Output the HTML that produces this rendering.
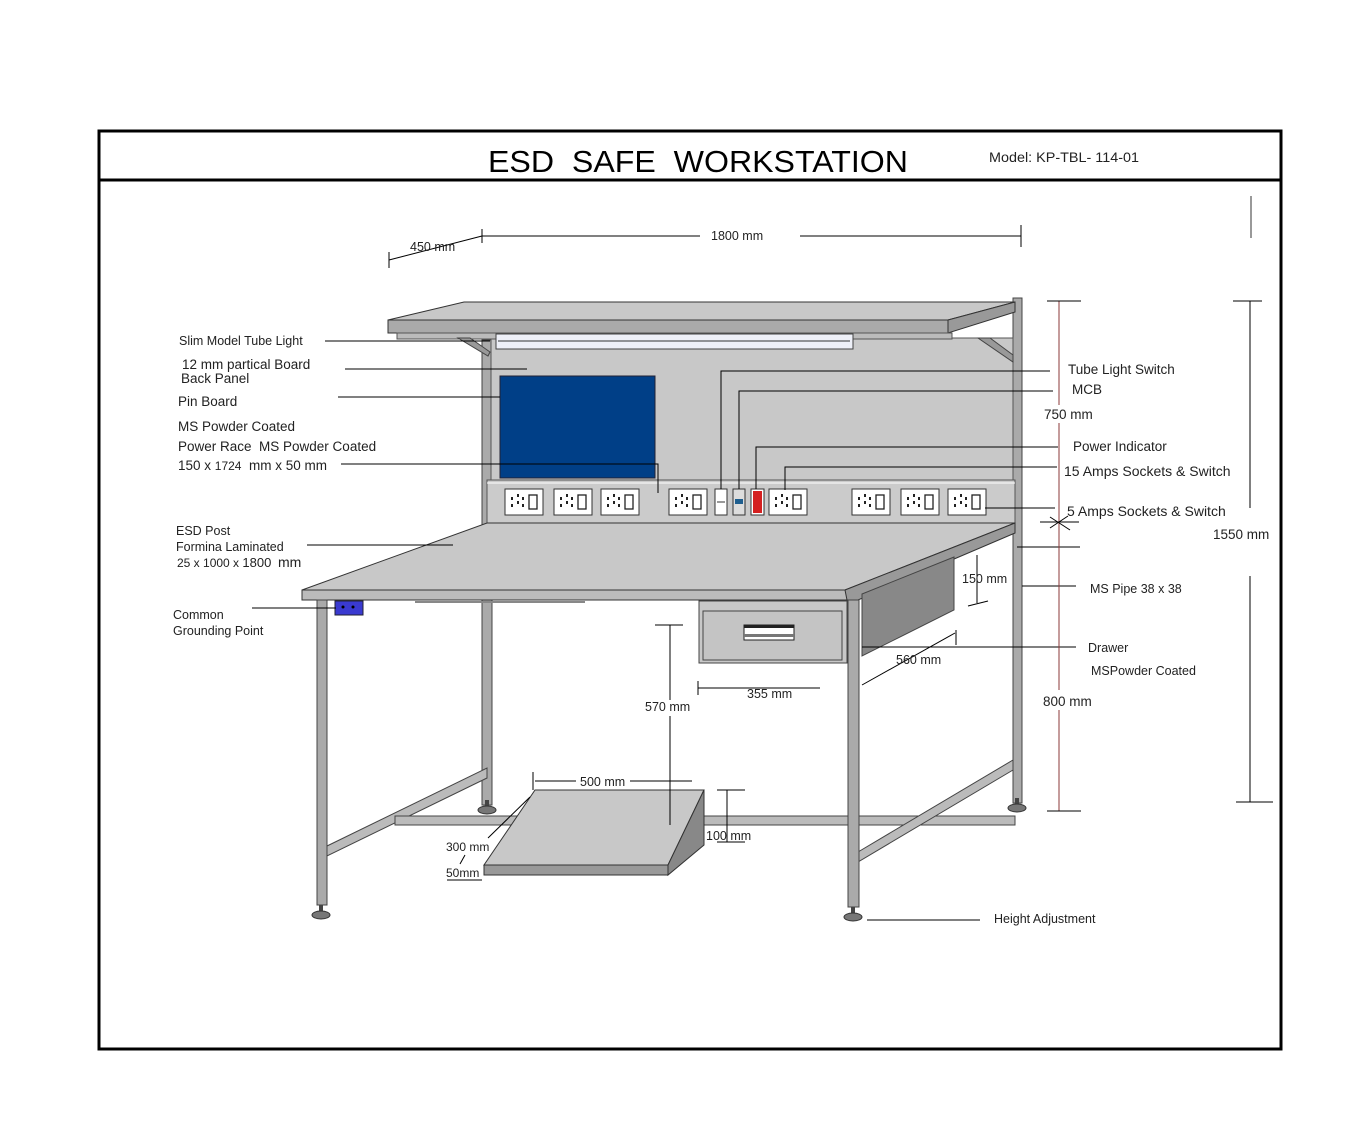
<!DOCTYPE html>
<html><head><meta charset="utf-8"><style>
html,body{margin:0;padding:0;background:#fff;}
svg{display:block;}
text{font-family:"Liberation Sans",sans-serif;fill:#222;}
</style></head><body>
<svg width="1360" height="1145" viewBox="0 0 1360 1145" xmlns="http://www.w3.org/2000/svg">
<defs>
<g id="sk">
<rect x="0" y="0" width="38" height="26" fill="#fff" stroke="#333" stroke-width="1"/>
<rect x="6" y="8" width="2" height="3" fill="#222"/><rect x="6" y="15" width="2" height="3" fill="#222"/>
<rect x="12" y="5" width="2" height="3" fill="#222"/><rect x="12" y="12" width="2" height="3" fill="#222"/>
<rect x="17" y="8" width="2" height="3" fill="#222"/><rect x="17" y="15" width="2" height="3" fill="#222"/>
<rect x="24" y="6" width="8" height="14" fill="#fff" stroke="#222" stroke-width="1.3"/>
</g>
<g id="foot"><rect x="-2" y="-8" width="4" height="8" fill="#444"/><ellipse cx="0" cy="2" rx="9" ry="4" fill="#777" stroke="#333"/></g>
</defs>
<rect width="1360" height="1145" fill="#fff"/>
<rect x="99" y="131" width="1182" height="918" fill="none" stroke="#000" stroke-width="3"/>
<line x1="99" y1="180" x2="1281" y2="180" stroke="#000" stroke-width="3"/>
<text x="488" y="172" font-size="31" textLength="420" lengthAdjust="spacingAndGlyphs" style="fill:#000;white-space:pre">ESD  SAFE  WORKSTATION</text>
<text x="989" y="162" font-size="14" textLength="150" lengthAdjust="spacingAndGlyphs">Model: KP-TBL- 114-01</text>
<line x1="1251" y1="196" x2="1251" y2="238" stroke="#999" stroke-width="2"/>

<g stroke="#000" stroke-width="1">
<line x1="482" y1="236" x2="700" y2="236"/><line x1="800" y1="236" x2="1021" y2="236"/>
<line x1="482" y1="229" x2="482" y2="243"/><line x1="1021" y1="225" x2="1021" y2="247"/>
<line x1="389" y1="260" x2="482" y2="236"/><line x1="389" y1="252" x2="389" y2="268"/>
</g>
<text x="711" y="240" font-size="12.5">1800 mm</text>
<text x="410" y="251" font-size="12.5">450 mm</text>

<rect x="482" y="340" width="10" height="465" fill="#aaa" stroke="#444"/>
<rect x="1013" y="298" width="9" height="505" fill="#aaa" stroke="#444"/>
<use href="#foot" x="487" y="808"/><use href="#foot" x="1017" y="806"/>
<polygon points="327,846 487,768 487,778 327,856" fill="#bbb" stroke="#444"/>
<rect x="395" y="816" width="620" height="9" fill="#bbb" stroke="#444"/>
<polygon points="858,852 1013,760 1013,770 858,862" fill="#bbb" stroke="#444"/>

<rect x="491" y="338" width="522" height="185" fill="#c8c8c8" stroke="#555"/>
<rect x="500" y="376" width="155" height="102" fill="#003f87" stroke="#223"/>
<rect x="487" y="480" width="528" height="43" fill="#cbcbcb" stroke="#555"/>
<line x1="487" y1="483" x2="1015" y2="483" stroke="#fff" stroke-width="1"/>
<use href="#sk" x="505" y="489"/><use href="#sk" x="554" y="489"/><use href="#sk" x="601" y="489"/>
<use href="#sk" x="669" y="489"/><use href="#sk" x="769" y="489"/>
<use href="#sk" x="852" y="489"/><use href="#sk" x="901" y="489"/><use href="#sk" x="948" y="489"/>
<rect x="715" y="489" width="12" height="26" fill="#fff" stroke="#333"/><line x1="717" y1="502" x2="725" y2="502" stroke="#333"/>
<rect x="733" y="489" width="12" height="26" fill="#ddd" stroke="#333"/><rect x="735" y="499" width="8" height="5" fill="#1f5f8f"/>
<rect x="751" y="489" width="13" height="26" fill="#fff" stroke="#333"/><rect x="753" y="491" width="9" height="22" fill="#d42020"/>

<polygon points="388,320 464,302 1015,302 948,320" fill="#c8c8c8" stroke="#333"/>
<rect x="388" y="320" width="560" height="13" fill="#aaa" stroke="#333"/>
<polygon points="948,320 1015,302 1015,312 948,333" fill="#999" stroke="#333"/>
<rect x="397" y="333" width="555" height="6" fill="#bbb" stroke="#555"/>
<polygon points="458,338 470,338 490,352 488,356" fill="#999" stroke="#444"/>
<polygon points="978,338 990,338 1013,355 1013,362" fill="#999" stroke="#444"/>
<rect x="496" y="334" width="357" height="15" fill="#eef0f8" stroke="#444"/>
<line x1="498" y1="341" x2="850" y2="341" stroke="#333"/>

<polygon points="487,523 1015,523 845,590 302,590" fill="#c8c8c8" stroke="#333"/>
<rect x="302" y="590" width="545" height="10" fill="#bbb" stroke="#333"/>
<polygon points="845,590 1015,523 1015,533 858,600 847,600" fill="#999" stroke="#333"/>
<polygon points="862,594 954,557 954,610 862,656" fill="#888" stroke="#444"/>
<line x1="415" y1="602" x2="585" y2="602" stroke="#888" stroke-width="2"/>
<rect x="699" y="601" width="148" height="62" fill="#c8c8c8" stroke="#444"/>
<rect x="703" y="611" width="139" height="49" fill="#c4c4c4" stroke="#444"/>
<rect x="744" y="625" width="50" height="15" fill="#fff" stroke="#222"/>
<rect x="744" y="625" width="50" height="3" fill="#222"/><rect x="744" y="634" width="50" height="3" fill="#777"/>
<rect x="335" y="601" width="28" height="14" fill="#3a3ad0" stroke="#223"/>
<circle cx="343" cy="607" r="1.5" fill="#000"/><circle cx="353" cy="607" r="1.5" fill="#000"/>
<rect x="317" y="600" width="10" height="305" fill="#aaa" stroke="#444"/>
<rect x="848" y="600" width="11" height="307" fill="#aaa" stroke="#444"/>
<use href="#foot" x="321" y="913"/><use href="#foot" x="853" y="915"/>

<polygon points="535,790 704,790 668,865 484,865" fill="#c8c8c8" stroke="#333"/>
<rect x="484" y="865" width="184" height="10" fill="#999" stroke="#333"/>
<polygon points="704,790 704,845 668,875 668,865" fill="#888" stroke="#333"/>

<g stroke="#000" stroke-width="1" fill="none">
<line x1="325" y1="341" x2="490" y2="341"/>
<line x1="345" y1="369" x2="527" y2="369"/>
<line x1="338" y1="397" x2="500" y2="397"/>
<polyline points="341,464 658,464 658,493"/>
<line x1="307" y1="545" x2="453" y2="545"/>
<line x1="252" y1="608" x2="336" y2="608"/>
<polyline points="721,489 721,371 1050,371"/>
<polyline points="739,489 739,391 1053,391"/>
<polyline points="756,489 756,447 1058,447"/>
<polyline points="785,490 785,467 1057,467"/>
<line x1="985" y1="508" x2="1055" y2="508"/>
<line x1="1017" y1="547" x2="1080" y2="547"/>
<line x1="1022" y1="586" x2="1076" y2="586"/>
<line x1="862" y1="647" x2="1076" y2="647"/>
<line x1="867" y1="920" x2="980" y2="920"/>
<line x1="977" y1="555" x2="977" y2="603"/><line x1="968" y1="606" x2="988" y2="601"/>
<line x1="862" y1="685" x2="955" y2="633"/><line x1="956" y1="630" x2="956" y2="645"/>
<line x1="698" y1="688" x2="820" y2="688"/><line x1="698" y1="681" x2="698" y2="695"/>
<line x1="670" y1="625" x2="670" y2="700"/><line x1="670" y1="716" x2="670" y2="825"/><line x1="655" y1="625" x2="683" y2="625"/>
<line x1="535" y1="781" x2="576" y2="781"/><line x1="630" y1="781" x2="692" y2="781"/><line x1="533" y1="772" x2="533" y2="790"/>
<line x1="727" y1="790" x2="727" y2="842"/><line x1="717" y1="790" x2="745" y2="790"/><line x1="717" y1="842" x2="745" y2="842"/>
<line x1="530" y1="797" x2="488" y2="838"/><line x1="465" y1="855" x2="460" y2="864"/>
<line x1="447" y1="880" x2="482" y2="880"/>
<line x1="1250" y1="301" x2="1250" y2="508"/><line x1="1250" y1="576" x2="1250" y2="802"/>
<line x1="1233" y1="301" x2="1262" y2="301"/><line x1="1236" y1="802" x2="1273" y2="802"/>
</g>
<g stroke="#8b3a3a" stroke-width="1">
<line x1="1059" y1="301" x2="1059" y2="405"/><line x1="1059" y1="423" x2="1059" y2="690"/><line x1="1059" y1="710" x2="1059" y2="811"/>
</g>
<g stroke="#000" stroke-width="1">
<line x1="1047" y1="301" x2="1081" y2="301"/><line x1="1047" y1="811" x2="1081" y2="811"/>
<line x1="1040" y1="522" x2="1079" y2="522"/><line x1="1050" y1="517" x2="1070" y2="530"/><line x1="1050" y1="528" x2="1068" y2="516"/>
</g>

<text x="179" y="345" font-size="12.5">Slim Model Tube Light</text>
<text x="182" y="369" font-size="13.5">12 mm partical Board</text>
<text x="181" y="383" font-size="13.5">Back Panel</text>
<text x="178" y="406" font-size="13.5">Pin Board</text>
<text x="178" y="431" font-size="13.5">MS Powder Coated</text>
<text x="178" y="451" font-size="13.5" style="white-space:pre">Power Race  MS Powder Coated</text>
<text x="178" y="470" font-size="13.5" style="white-space:pre">150 x <tspan font-size="12">1724</tspan>  mm x 50 mm</text>
<text x="176" y="535" font-size="12.5">ESD Post</text>
<text x="176" y="551" font-size="12.5">Formina Laminated</text>
<text x="177" y="567" font-size="12" style="white-space:pre">25 x 1000 x <tspan font-size="13">1800</tspan>  <tspan font-size="14">mm</tspan></text>
<text x="173" y="619" font-size="12.5">Common</text>
<text x="173" y="635" font-size="12.5">Grounding Point</text>
<text x="1068" y="374" font-size="13.5">Tube Light Switch</text>
<text x="1072" y="394" font-size="13.5">MCB</text>
<text x="1044" y="419" font-size="13.5">750 mm</text>
<text x="1073" y="451" font-size="13.5">Power Indicator</text>
<text x="1064" y="476" font-size="14">15 Amps Sockets &amp; Switch</text>
<text x="1067" y="516" font-size="14">5 Amps Sockets &amp; Switch</text>
<text x="1213" y="539" font-size="13.5">1550 mm</text>
<text x="1090" y="593" font-size="12.5">MS Pipe 38 x 38</text>
<text x="1088" y="652" font-size="12.5">Drawer</text>
<text x="1091" y="675" font-size="12.5">MSPowder Coated</text>
<text x="1043" y="706" font-size="13.5">800 mm</text>
<text x="994" y="923" font-size="12.5">Height Adjustment</text>
<text x="962" y="583" font-size="12.5">150 mm</text>
<text x="896" y="664" font-size="12.5">560 mm</text>
<text x="747" y="698" font-size="12.5">355 mm</text>
<text x="645" y="711" font-size="12.5">570 mm</text>
<text x="580" y="786" font-size="12.5">500 mm</text>
<text x="706" y="840" font-size="12.5">100 mm</text>
<text x="446" y="851" font-size="12">300 mm</text>
<text x="446" y="877" font-size="12">50mm</text>
</svg>
</body></html>
